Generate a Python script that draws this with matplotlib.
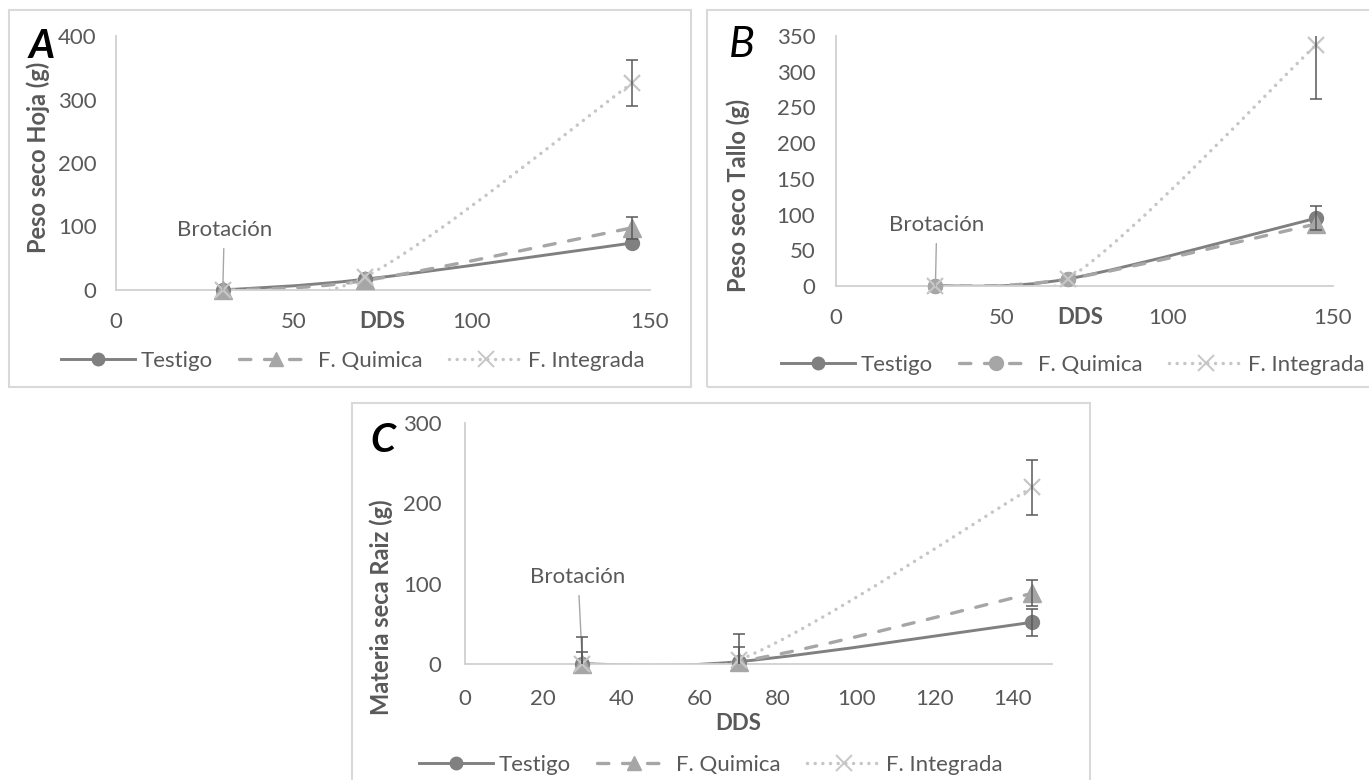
import matplotlib
matplotlib.use("Agg")
import matplotlib.pyplot as plt
from matplotlib.path import Path
from matplotlib.patches import PathPatch, Rectangle
from matplotlib.lines import Line2D

plt.rcParams['font.family'] = ['Lato', 'DejaVu Sans']

W, H = 1369, 780

# days after planting (DDS)
dds = [30, 70, 145]
labels = ['Testigo', 'F. Quimica', 'F. Integrada']

# A - hoja
hoja_testigo = [0, 17, 74]
hoja_quimica = [0, 15, 98]
hoja_integrada = [0, 21, 326]
hoja_err_testigo = [0, 0, 0]
hoja_err_quimica = [0, 0, 17]
hoja_err_integrada = [0, 0, 36]

# B - tallo
tallo_testigo = [0, 10, 95]
tallo_quimica = [0, 10, 87]
tallo_integrada = [0, 10, 338]
tallo_err_testigo = [0, 0, 17]
tallo_err_quimica = [0, 0, 0]
tallo_err_integrada = [0, 0, 76]

# C - raiz
raiz_testigo = [0, 3, 52]
raiz_quimica = [0, 3, 88]
raiz_integrada = [0, 5, 220]
raiz_err_testigo = [15, 18, 17]
raiz_err_quimica = [0, 0, 16]
raiz_err_integrada = [33, 32, 34]

GRID = '#d0d0d0'
TXT = '#595959'
colors = ['#808080', '#a6a6a6', '#c6c6c6']
lstyles = ['-', (0, (3.4, 4.1)), (0, (0.01, 2.2))]
lwidths = [2.1, 2.4, 2.5]
FS = 16


def px_axes(fig, x0, x1, y0, y1):
    return fig.add_axes([x0 / W, 1 - y1 / H, (x1 - x0) / W, (y1 - y0) / H])


def px_box(fig, x0, x1, y0, y1):
    fig.add_artist(Rectangle((x0 / W, 1 - y1 / H), (x1 - x0) / W, (y1 - y0) / H,
                             transform=fig.transFigure, fill=False, ec='#d9d9d9', lw=1.5))


def smooth(x, y):
    # excel-like smoothed line: bezier through the points
    pts = list(zip(x, y))
    n = len(pts)
    verts = [pts[0]]
    codes = [Path.MOVETO]
    for i in range(n - 1):
        p0 = pts[max(i - 1, 0)]
        p1 = pts[i]
        p2 = pts[i + 1]
        p3 = pts[min(i + 2, n - 1)]
        c1 = (p1[0] + (p2[0] - p0[0]) / 6, p1[1] + (p2[1] - p0[1]) / 6)
        c2 = (p2[0] - (p3[0] - p1[0]) / 6, p2[1] - (p3[1] - p1[1]) / 6)
        verts += [c1, c2, p2]
        codes += [Path.CURVE4] * 3
    return Path(verts, codes)


def draw_panel(ax, ys, errs, markers, ylim, yticks, xticks, ypad, xpad, brot_xy):
    for i in range(3):
        patch = PathPatch(smooth(dds, ys[i]), fill=False, ec=colors[i], lw=lwidths[i],
                          linestyle=lstyles[i], capstyle='round')
        ax.add_patch(patch)
        for j, m in enumerate(markers[i]):
            if m == 'x':
                ax.plot(dds[j], ys[i][j], marker='x', ms=12, mew=1.6, color=colors[i],
                        zorder=3, clip_on=False)
            elif m == '^':
                ax.plot(dds[j], ys[i][j], marker='^', ms=13, color=colors[i],
                        zorder=3, clip_on=False)
            else:
                ax.plot(dds[j], ys[i][j], marker='o', ms=10, color=colors[i],
                        zorder=3, clip_on=False)
        xe = [x for x, e in zip(dds, errs[i]) if e > 0]
        ye = [y for y, e in zip(ys[i], errs[i]) if e > 0]
        ee = [e for e in errs[i] if e > 0]
        if ee:
            ax.errorbar(xe, ye, yerr=ee, fmt='none', ecolor=TXT, elinewidth=1.1,
                        capsize=4, capthick=1.1, zorder=4)

    ax.set_xlim(0, 150)
    ax.set_ylim(*ylim)
    ax.set_xticks(xticks)
    ax.set_yticks(yticks)
    for s in ['top', 'right']:
        ax.spines[s].set_visible(False)
    for s in ['left', 'bottom']:
        ax.spines[s].set_color(GRID)
        ax.spines[s].set_linewidth(1.3)
        ax.spines[s].set_zorder(1)
    ax.patch.set_alpha(0)
    ax.tick_params(axis='both', length=0, colors=TXT, labelsize=FS)
    ax.tick_params(axis='y', pad=ypad)
    ax.tick_params(axis='x', pad=xpad)
    ax.annotate('Brotación', xy=(30, 0), xytext=brot_xy, ha='center', va='center',
                color=TXT, fontsize=FS,
                arrowprops=dict(arrowstyle='-', color='#a6a6a6', lw=1, shrinkA=4, shrinkB=0))


def legend_handles(qmarker):
    return [
        Line2D([], [], color=colors[0], lw=lwidths[0], ls=lstyles[0], marker='o', ms=9),
        Line2D([], [], color=colors[1], lw=lwidths[1], ls=lstyles[1], marker=qmarker, ms=10,
               dash_capstyle='round'),
        Line2D([], [], color=colors[2], lw=lwidths[2], ls=lstyles[2], marker='x', ms=11,
               mew=1.4, dash_capstyle='round'),
    ]


def add_legend(fig, qmarker, cx, cy):
    fig.legend(legend_handles(qmarker), labels, loc='center', bbox_to_anchor=(cx / W, 1 - cy / H),
               ncol=3, frameon=False, fontsize=FS, handlelength=3.3, handletextpad=0.25,
               columnspacing=1.2, labelcolor=TXT, numpoints=1)


fig = plt.figure(figsize=(W / 100, H / 100), dpi=100)

# boxes around each chart
px_box(fig, 9, 691, 10, 387)
px_box(fig, 707, 1380, 10, 387)
px_box(fig, 352, 1090, 403, 790)

# ---- A
axA = px_axes(fig, 116, 650, 36, 290)
draw_panel(axA, [hoja_testigo, hoja_quimica, hoja_integrada],
           [hoja_err_testigo, hoja_err_quimica, hoja_err_integrada],
           [['o'] * 3, ['^'] * 3, ['x'] * 3],
           (0, 400), [0, 100, 200, 300, 400], [0, 50, 100, 150], 14, 16, (30.4, 94))
fig.text(382 / W, 1 - 322 / H, 'DDS', ha='center', va='center', fontsize=FS,
         fontweight='bold', color=TXT)
fig.text(38 / W, 1 - 157 / H, 'Peso seco Hoja (g)', rotation=90, ha='center', va='center',
         fontsize=17, fontweight='bold', color=TXT)
fig.text(42 / W, 1 - 47 / H, 'A', ha='center', va='center', fontsize=29,
         fontweight='bold', fontstyle='italic', color='black')
add_legend(fig, '^', 353, 361)

# ---- B
axB = px_axes(fig, 836, 1333, 36, 286)
draw_panel(axB, [tallo_testigo, tallo_quimica, tallo_integrada],
           [tallo_err_testigo, tallo_err_quimica, tallo_err_integrada],
           [['o'] * 3, ['o', 'o', '^'], ['x'] * 3],
           (0, 350), list(range(0, 351, 50)), [0, 50, 100, 150], 15, 16, (30.4, 85))
fig.text(1080 / W, 1 - 318 / H, 'DDS', ha='center', va='center', fontsize=FS,
         fontweight='bold', color=TXT)
fig.text(738 / W, 1 - 195 / H, 'Peso seco Tallo (g)', rotation=90, ha='center', va='center',
         fontsize=17, fontweight='bold', color=TXT)
fig.text(742 / W, 1 - 45 / H, 'B', ha='center', va='center', fontsize=31,
         fontstyle='italic', color='black')
add_legend(fig, 'o', 1073, 365)

# ---- C
axC = px_axes(fig, 465, 1052, 423, 664)
draw_panel(axC, [raiz_testigo, raiz_quimica, raiz_integrada],
           [raiz_err_testigo, raiz_err_quimica, raiz_err_integrada],
           [['o'] * 3, ['^'] * 3, ['x'] * 3],
           (0, 300), [0, 100, 200, 300], list(range(0, 141, 20)), 17, 18, (28.9, 108))
fig.text(738 / W, 1 - 723 / H, 'DDS', ha='center', va='center', fontsize=FS,
         fontweight='bold', color=TXT)
fig.text(381 / W, 1 - 607 / H, 'Materia seca Raiz (g)', rotation=90, ha='center', va='center',
         fontsize=17, fontweight='bold', color=TXT)
fig.text(383 / W, 1 - 440 / H, 'C', ha='center', va='center', fontsize=29,
         fontweight='bold', fontstyle='italic', color='black')
add_legend(fig, '^', 711, 765)

fig.savefig('out.png', dpi=100)
